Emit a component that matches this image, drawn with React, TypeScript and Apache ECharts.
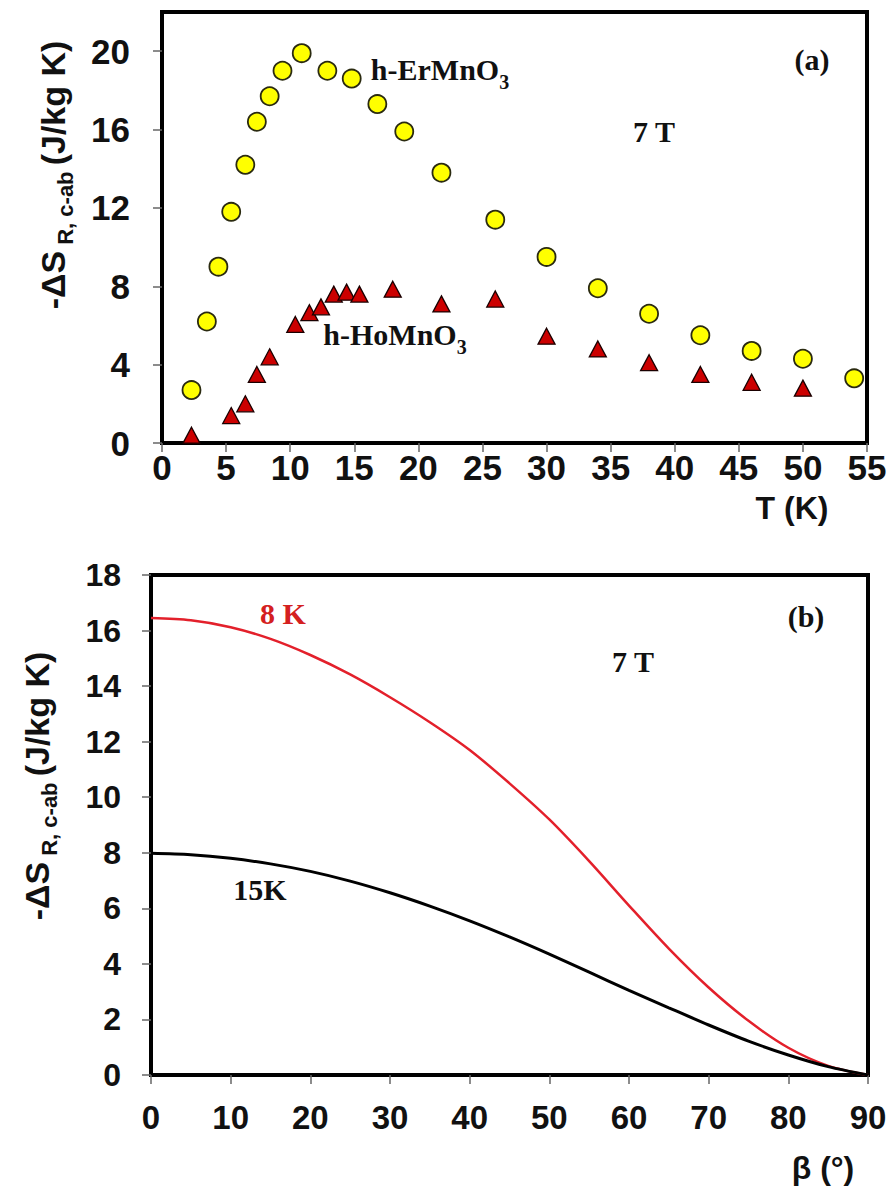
import React, { useEffect, useRef } from "react";
import * as echarts from "echarts";

// Panel (a): -ΔS vs T
const erT = [2.3, 3.5, 4.4, 5.4, 6.5, 7.4, 8.4, 9.4, 10.9, 12.9, 14.8, 16.8, 18.9, 21.8, 26, 30, 34, 38, 42, 46, 50, 54];
const erS = [2.7, 6.2, 9.0, 11.8, 14.2, 16.4, 17.7, 19.0, 19.9, 19.0, 18.6, 17.3, 15.9, 13.8, 11.4, 9.5, 7.9, 6.6, 5.5, 4.7, 4.3, 3.3];
const hoT = [2.3, 5.4, 6.5, 7.4, 8.4, 10.4, 11.5, 12.4, 13.4, 14.4, 15.4, 18, 21.8, 26, 30, 34, 38, 42, 46, 50];
const hoS = [0.4, 1.4, 2.0, 3.5, 4.4, 6.05, 6.65, 6.95, 7.6, 7.7, 7.6, 7.85, 7.1, 7.35, 5.45, 4.8, 4.1, 3.5, 3.1, 2.8];

// Panel (b): -ΔS vs β
const beta = [0, 5, 10, 15, 20, 25, 30, 35, 40, 45, 50, 55, 60, 65, 70, 75, 80, 85, 90];
const s8K = [16.45, 16.37, 16.12, 15.7, 15.12, 14.42, 13.6, 12.7, 11.7, 10.5, 9.2, 7.7, 6.1, 4.55, 3.15, 1.95, 0.98, 0.33, 0];
const s15K = [7.98, 7.93, 7.8, 7.6, 7.33, 6.98, 6.56, 6.08, 5.55, 4.97, 4.35, 3.7, 3.05, 2.42, 1.8, 1.22, 0.72, 0.3, 0];

const xTicksA = { min: 0, max: 55, interval: 5 };
const yTicksA = { min: 0, max: 22, interval: 4 };
const xTicksB = { min: 0, max: 90, interval: 10 };
const yTicksB = { min: 0, max: 18, interval: 2 };

const SANS = "'Liberation Sans', Arial, sans-serif";
const SERIF = "'Liberation Serif', 'Times New Roman', serif";

export default function App() {
  const ref = useRef<HTMLDivElement>(null);
  useEffect(() => {
    document.body.style.margin = "0";
    const chart = echarts.init(ref.current!, null, { renderer: "svg" });

    const axisCommon = (fs: number, margin: number) => ({
      axisLine: { show: true, lineStyle: { color: "#000", width: 3 } },
      axisTick: { show: true, inside: false, length: 9, lineStyle: { color: "#666", width: 1.5 } },
      splitLine: { show: false },
      axisLabel: { fontFamily: SANS, fontWeight: "bold", fontSize: fs, color: "#111", margin },
    });

    const yName = (x: number, y: number) => ({
      type: "text",
      x,
      y,
      rotation: Math.PI / 2,
      style: {
        text: "{m|-ΔS}{s| R, c-ab }{m|(J/kg K)}",
        align: "center",
        verticalAlign: "middle",
        fill: "#111",
        rich: {
          m: { fontFamily: SANS, fontWeight: "bold", fontSize: 34, lineHeight: 40, verticalAlign: "bottom" },
          s: { fontFamily: SANS, fontWeight: "bold", fontSize: 22, lineHeight: 34, verticalAlign: "bottom", padding: [0, 0, -6, 0] },
        },
      },
    });

    const serifText = (x: number, y: number, text: string, fill = "#111") => ({
      type: "text",
      x,
      y,
      style: { text, fill, font: `bold 30px ${SERIF}`, align: "center", verticalAlign: "middle" },
    });

    const formulaText = (x: number, y: number, base: string) => ({
      type: "text",
      x,
      y,
      style: {
        text: `{m|${base}}{s|3}`,
        align: "center",
        verticalAlign: "middle",
        fill: "#111",
        rich: {
          m: { fontFamily: SERIF, fontWeight: "bold", fontSize: 30, lineHeight: 36, verticalAlign: "bottom" },
          s: { fontFamily: SERIF, fontWeight: "bold", fontSize: 20, lineHeight: 28, verticalAlign: "bottom", padding: [0, 0, -8, 0] },
        },
      },
    });

    chart.setOption({
      animation: false,
      backgroundColor: "#fff",
      grid: [
        { left: 162, top: 12, width: 705, height: 431, show: true, borderColor: "#000", borderWidth: 4, backgroundColor: "transparent" },
        { left: 151, top: 575, width: 717, height: 500, show: true, borderColor: "#000", borderWidth: 4, backgroundColor: "transparent" },
      ],
      xAxis: [
        { type: "value", gridIndex: 0, ...xTicksA, ...axisCommon(35, 7) },
        { type: "value", gridIndex: 1, ...xTicksB, ...axisCommon(33, 26) },
      ],
      yAxis: [
        { type: "value", gridIndex: 0, ...yTicksA, ...axisCommon(35, 32), axisLabel: { ...axisCommon(35, 32).axisLabel, showMaxLabel: false } },
        { type: "value", gridIndex: 1, ...yTicksB, ...axisCommon(32, 30) },
      ],
      series: [
        {
          name: "h-ErMnO3",
          type: "scatter",
          xAxisIndex: 0,
          yAxisIndex: 0,
          symbol: "circle",
          symbolSize: 18,
          itemStyle: { color: "#FFFF00", borderColor: "#2a2a10", borderWidth: 1.8, opacity: 1 },
          data: erT.map((t, i) => [t, erS[i]]),
          z: 3,
        },
        {
          name: "h-HoMnO3",
          type: "scatter",
          xAxisIndex: 0,
          yAxisIndex: 0,
          symbol: "triangle",
          symbolSize: [17, 16],
          itemStyle: { color: "#CC0000", borderColor: "#1a0000", borderWidth: 1.3, opacity: 1 },
          data: hoT.map((t, i) => [t, hoS[i]]),
          z: 3,
        },
        {
          name: "8 K",
          type: "line",
          xAxisIndex: 1,
          yAxisIndex: 1,
          smooth: 0.3,
          showSymbol: false,
          lineStyle: { color: "#E3202B", width: 2.5 },
          data: beta.map((b, i) => [b, s8K[i]]),
        },
        {
          name: "15 K",
          type: "line",
          xAxisIndex: 1,
          yAxisIndex: 1,
          smooth: 0.3,
          showSymbol: false,
          lineStyle: { color: "#000", width: 3 },
          data: beta.map((b, i) => [b, s15K[i]]),
        },
      ],
      graphic: [
        yName(50, 175),
        yName(34, 786),
        formulaText(440, 66, "h-ErMnO"),
        formulaText(395, 331, "h-HoMnO"),
        serifText(812, 59, "(a)"),
        serifText(654, 131, "7 T"),
        serifText(283, 613, "8 K", "#D42020"),
        serifText(806, 616, "(b)"),
        serifText(633, 661, "7 T"),
        serifText(260, 889, "15K"),
        {
          type: "text",
          x: 792,
          y: 508,
          style: { text: "T (K)", fill: "#111", font: `bold 32px ${SANS}`, align: "center", verticalAlign: "middle" },
        },
        {
          type: "text",
          x: 823,
          y: 1168,
          style: { text: "β (°)", fill: "#111", font: `bold 32px ${SANS}`, align: "center", verticalAlign: "middle" },
        },
      ],
    });
    return () => chart.dispose();
  }, []);
  return <div ref={ref} style={{ width: 893, height: 1192 }} />;
}
